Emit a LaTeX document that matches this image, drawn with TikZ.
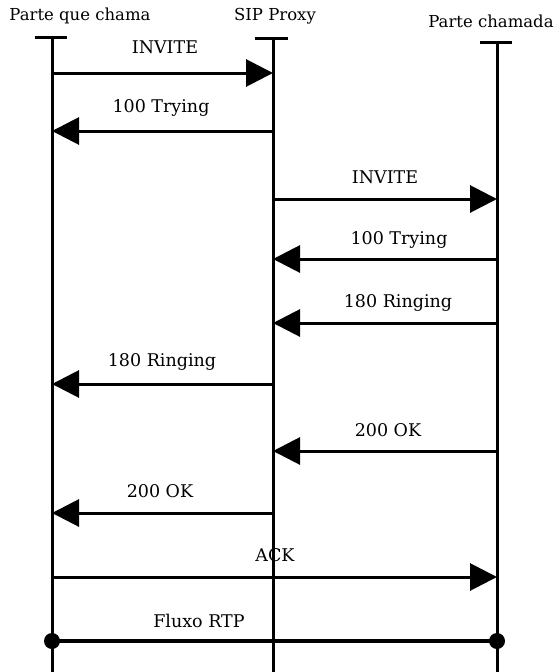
\documentclass[tikz,border=0pt]{standalone}
\usepackage{fontspec}
\setmainfont{DejaVu Serif}
\usetikzlibrary{arrows.meta}
\begin{document}
\begin{tikzpicture}[x=1pt,y=-1pt,
  life/.style={line width=3pt},
  tick/.style={line width=3pt},
  msg/.style={line width=3pt,-{Triangle[length=27pt,width=27pt]}},
  lbl/.style={font=\fontsize{17.5}{18}\selectfont,inner sep=0pt},
  hdr/.style={font=\fontsize{16.5}{17}\selectfont,inner sep=0pt}]
\useasboundingbox (0,0) rectangle (556,672);
% headers
\node[hdr] (hA) at (80,16) {Parte que chama};
\node[hdr] (hB) at (275,16) {SIP Proxy};
\node[hdr] (hC) at (491,21) {Parte chamada};
% lifelines
\coordinate (tA) at (52,37); \coordinate (bA) at (52,672);
\coordinate (tB) at (273,38); \coordinate (bB) at (273,672);
\coordinate (tC) at (497,42); \coordinate (bC) at (497,672);
\draw[life] (tA) -- (bA);
\draw[life] (tB) -- (bB);
\draw[life] (tC) -- (bC);
\draw[tick] ([xshift=-17pt]tA) -- ([xshift=15pt]tA);
\draw[tick] ([xshift=-18pt]tB) -- ([xshift=15pt]tB);
\draw[tick] ([xshift=-17pt]tC) -- ([xshift=15pt]tC);
% message endpoints
\foreach \n/\y in {1/73,2/131,3/199,4/259,5/323,6/384,7/451,8/513,9/577,10/641}{
  \coordinate (A\n) at (52,\y);
  \coordinate (B\n) at (273,\y);
  \coordinate (C\n) at (497,\y);
}
\draw[msg] (A1) -- (B1);
\node[lbl] (l1) at (165,47) {INVITE};
\draw[msg] (B2) -- (A2);
\node[lbl] (l2) at (161,108) {100 Trying};
\draw[msg] (B3) -- (C3);
\node[lbl] (l3) at (385,177) {INVITE};
\draw[msg] (C4) -- (B4);
\node[lbl] (l4) at (399,240) {100 Trying};
\draw[msg] (C5) -- (B5);
\node[lbl] (l5) at (398,303) {180 Ringing};
\draw[msg] (B6) -- (A6);
\node[lbl] (l6) at (162,362) {180 Ringing};
\draw[msg] (C7) -- (B7);
\node[lbl] (l7) at (388,430) {200 OK};
\draw[msg] (B8) -- (A8);
\node[lbl] (l8) at (160,491) {200 OK};
\draw[msg] (A9) -- (C9);
\node[lbl] (l9) at (275,555) {ACK};
\draw[line width=4pt] (A10) -- (C10);
\fill (A10) circle (8pt);
\fill (C10) circle (8pt);
\node[lbl] (l10) at (199,621) {Fluxo RTP};
\end{tikzpicture}
\end{document}
